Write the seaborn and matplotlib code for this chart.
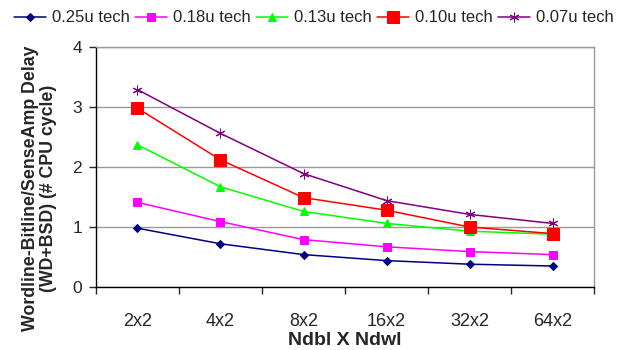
import matplotlib
matplotlib.use("Agg")
import matplotlib.pyplot as plt
import seaborn as sns
import numpy as np

# Data
configs = ["2x2", "4x2", "8x2", "16x2", "32x2", "64x2"]
tech_labels = ["0.25u tech", "0.18u tech", "0.13u tech", "0.10u tech", "0.07u tech"]
delay_025 = [0.98, 0.72, 0.54, 0.44, 0.38, 0.35]
delay_018 = [1.41, 1.09, 0.79, 0.67, 0.59, 0.54]
delay_013 = [2.37, 1.67, 1.26, 1.06, 0.93, 0.88]
delay_010 = [2.98, 2.12, 1.49, 1.28, 1.00, 0.89]
delay_007 = [3.29, 2.56, 1.89, 1.44, 1.21, 1.06]

series = [delay_025, delay_018, delay_013, delay_010, delay_007]
colors = ["#000080", "#FF00FF", "#00FF00", "#FF0000", "#800080"]
markers = ["D", "s", "^", "s", (6, 2, 0)]
msizes = [4.5, 5.5, 6, 8.5, 7]

sns.set_style("white")
plt.rcParams['font.family'] = ['Liberation Sans', 'DejaVu Sans']

fig = plt.figure(figsize=(6.29, 3.5), dpi=100)
ax = fig.add_axes([0.1526, 0.18, 0.7918, 0.6857])

x = np.arange(len(configs))
for vals, lab, c, m, ms in zip(series, tech_labels, colors, markers, msizes):
    sns.lineplot(x=x, y=vals, color=c, marker=m, markersize=ms,
                 markeredgecolor=c, markerfacecolor=c, linewidth=1.1,
                 label=lab, ax=ax, legend=False)

ax.set_xlim(-0.5, len(configs) - 0.5)
ax.set_ylim(0, 4)
ax.set_yticks([0, 1, 2, 3, 4])
ax.yaxis.grid(True, color="#999999", linewidth=1)
ax.set_axisbelow(True)

# category labels centred, ticks between categories
ax.set_xticks(np.arange(-0.5, len(configs), 1.0))
ax.set_xticklabels([])
ax.set_xticks(x, minor=True)
ax.set_xticklabels(configs, minor=True)
ax.tick_params(axis="x", which="minor", length=0, pad=19, labelsize=13)
ax.tick_params(axis="x", which="major", length=5, width=1, direction="out", bottom=True)
ax.tick_params(axis="y", length=5, width=1, direction="out", left=True, labelsize=12.5, pad=5)

for side in ["left", "bottom"]:
    ax.spines[side].set_color("black")
    ax.spines[side].set_linewidth(1)
for side in ["top", "right"]:
    ax.spines[side].set_color("#999999")
    ax.spines[side].set_linewidth(1)

ax.set_xlabel("Ndbl X Ndwl", fontsize=14, fontweight="bold", va="center")
ax.xaxis.set_label_coords(0.5, -0.222)
ax.set_ylabel("Wordline-Bitline/SenseAmp Delay\n(WD+BSD) (# CPU cycle)",
              fontsize=12.8, fontweight="bold", linespacing=1.05, va="center")
ax.yaxis.set_label_coords(-0.113, 0.41)

handles, labels = ax.get_legend_handles_labels()
fig.legend(handles, labels, loc="center", bbox_to_anchor=(0.499, 0.949), ncol=5,
           frameon=False, fontsize=12, handlelength=1.9, handletextpad=0.36,
           columnspacing=0.33, borderpad=0, borderaxespad=0)

fig.savefig("out.png", dpi=100)
